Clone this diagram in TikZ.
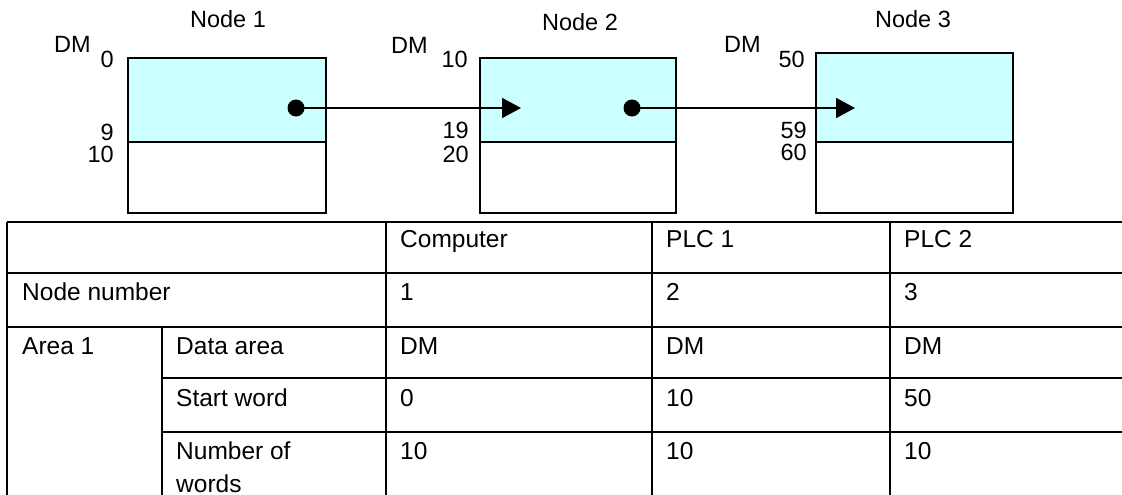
\documentclass[tikz,border=0pt]{standalone}
\usepackage{fontspec}
\setmainfont{Liberation Sans}
\usetikzlibrary{arrows.meta}
\definecolor{areafill}{HTML}{CCFFFF}
\begin{document}
\begin{tikzpicture}[x=1pt, y=-1pt,
  font=\fontsize{23.5}{33}\selectfont,
  lbl/.style={inner sep=0pt, anchor=base west},
  cell/.style={lbl, font=\fontsize{24.5}{33}\selectfont},
  ctr/.style={inner sep=0pt, anchor=base},
  num/.style={inner sep=0pt, anchor=base east},
  membox/.style={draw, line width=1.6pt, inner sep=0pt, anchor=north west},
  rule/.style={line width=2pt},
  dot/.style={circle, fill=black, inner sep=0pt, minimum size=17pt},
  link/.style={line width=2pt, -{Triangle[length=19pt, width=20pt]}}]
\useasboundingbox (0,0) rectangle (1122,495);

% memory blocks: transferred area (filled) above the rest of the area
\node[membox, fill=areafill, minimum width=198pt, minimum height=84pt] (m1a) at (127,57) {};
\node[membox, minimum width=198pt, minimum height=71pt] (m1b) at (127,141) {};
\node[membox, fill=areafill, minimum width=196pt, minimum height=84pt] (m2a) at (479,57) {};
\node[membox, minimum width=196pt, minimum height=71pt] (m2b) at (479,141) {};
\node[membox, fill=areafill, minimum width=197pt, minimum height=89pt] (m3a) at (815,52) {};
\node[membox, minimum width=197pt, minimum height=71pt] (m3b) at (815,141) {};

% titles
\node[ctr] (t1) at (228,28) {Node 1};
\node[ctr] (t2) at (580,31) {Node 2};
\node[ctr] (t3) at (913,28) {Node 3};

% address labels
\node[lbl] (dm1) at (54,53) {DM};
\node[num] (a1s) at (114,68) {0};
\node[num] (a1e) at (114,140) {9};
\node[num] (a1n) at (114,162) {10};
\node[lbl] (dm2) at (391,54) {DM};
\node[num] (a2s) at (468,67) {10};
\node[num] (a2e) at (469,138) {19};
\node[num] (a2n) at (469,162) {20};
\node[lbl] (dm3) at (724,53) {DM};
\node[num] (a3s) at (805,68) {50};
\node[num] (a3e) at (807,138) {59};
\node[num] (a3n) at (807,160) {60};

% data flow
\node[dot] (d1) at (296,108) {};
\node[dot] (d2) at (632,108) {};
\coordinate (e1) at (521,108);
\coordinate (e2) at (855,108);
\draw[link] (d1.center) -- (e1);
\draw[link] (d2.center) -- (e2);

% table rules
\draw[rule] (7,222) -- (1122,222);
\draw[rule] (7,273) -- (1122,273);
\draw[rule] (7,327) -- (1122,327);
\draw[rule] (162,378) -- (1122,378);
\draw[rule] (162,432) -- (1122,432);
\draw[rule] (7,222) -- (7,495);
\draw[rule] (162,327) -- (162,495);
\draw[rule] (386,222) -- (386,495);
\draw[rule] (652,222) -- (652,495);
\draw[rule] (890,222) -- (890,495);

% table text
\node[cell] (h2) at (400,247) {Computer};
\node[cell] (h3) at (666,247) {PLC 1};
\node[cell] (h4) at (904,247) {PLC 2};
\node[cell] (r1) at (22,300) {Node number};
\node[cell] (r1a) at (400,300) {1};
\node[cell] (r1b) at (666,300) {2};
\node[cell] (r1c) at (904,300) {3};
\node[cell] (g1) at (22,354) {Area 1};
\node[cell] (r2) at (176,354) {Data area};
\node[cell] (r2a) at (400,354) {DM};
\node[cell] (r2b) at (666,354) {DM};
\node[cell] (r2c) at (904,354) {DM};
\node[cell] (r3) at (176,406) {Start word};
\node[cell] (r3a) at (400,406) {0};
\node[cell] (r3b) at (666,406) {10};
\node[cell] (r3c) at (904,406) {50};
\node[cell] (r4) at (176,459) {\vtop{\hbox{Number of}\hbox{words}}};
\node[cell] (r4a) at (400,459) {10};
\node[cell] (r4b) at (666,459) {10};
\node[cell] (r4c) at (904,459) {10};
\end{tikzpicture}
\end{document}
